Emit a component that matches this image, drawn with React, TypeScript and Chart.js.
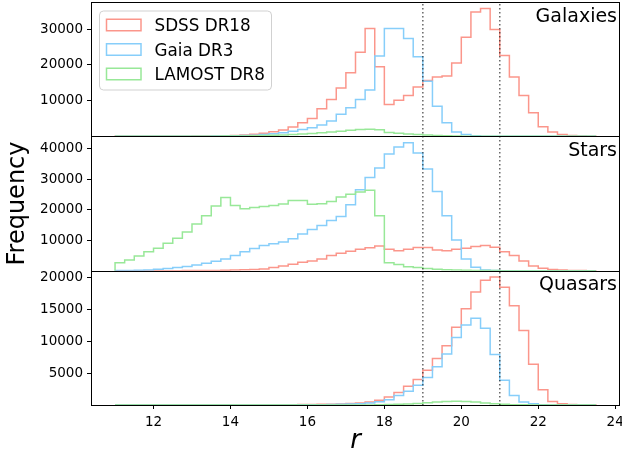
import React, { useEffect, useRef } from 'react';
import { Chart, registerables } from 'chart.js';

Chart.register(...registerables);

// ---------- data ----------
const binEdges = [
  11.0, 11.25, 11.5, 11.75, 12.0, 12.25, 12.5, 12.75, 13.0, 13.25,
  13.5, 13.75, 14.0, 14.25, 14.5, 14.75, 15.0, 15.25, 15.5, 15.75,
  16.0, 16.25, 16.5, 16.75, 17.0, 17.25, 17.5, 17.75, 18.0, 18.25,
  18.5, 18.75, 19.0, 19.25, 19.5, 19.75, 20.0, 20.25, 20.5, 20.75,
  21.0, 21.25, 21.5, 21.75, 22.0, 22.25, 22.5, 22.75, 23.0, 23.25,
  23.5,
];

const galaxiesSDSS = [
  10, 10, 15, 20, 25, 30, 40, 50, 70, 90,
  120, 180, 250, 380, 550, 850, 1250, 1750, 2600, 3800,
  5000, 7700, 10300, 13500, 17800, 23500, 30200, 19500, 8900, 10100,
  11400, 13800, 15600, 16600, 16900, 20500, 27700, 34800, 35800, 29900,
  22600, 16600, 11400, 6600, 2700, 1200, 500, 200, 80, 30,
];
const galaxiesGaia = [
  0, 0, 5, 10, 10, 15, 20, 30, 40, 50,
  70, 100, 150, 230, 330, 480, 700, 1000, 1450, 1900,
  2400, 3200, 4300, 6200, 8000, 10300, 13000, 22500, 30200, 30200,
  27400, 22300, 15400, 8400, 3800, 1200, 500, 150, 50, 10,
  0, 0, 0, 0, 0, 0, 0, 0, 0, 0,
];
const galaxiesLAMOST = [
  0, 5, 5, 10, 10, 15, 20, 25, 30, 40,
  50, 70, 90, 120, 160, 220, 300, 400, 520, 660,
  820, 1000, 1200, 1450, 1700, 1900, 2000, 1850, 1100, 850,
  650, 480, 340, 230, 150, 90, 50, 25, 10, 5,
  0, 0, 0, 0, 0, 0, 0, 0, 0, 0,
];

const starsSDSS = [
  0, 0, 0, 0, 5, 5, 10, 15, 20, 40,
  70, 120, 180, 260, 380, 560, 1000, 1550, 2100, 2750,
  3200, 3850, 4950, 5700, 6400, 7000, 7500, 8100, 7000, 6500,
  7000, 7570, 7570, 6800, 6500, 7000, 7350, 7900, 8250, 7700,
  6250, 4950, 3200, 1550, 760, 400, 200, 80, 30, 10,
];
const starsGaia = [
  50, 80, 120, 200, 450, 700, 1000, 1400, 1900, 2400,
  3100, 3850, 4950, 6250, 7300, 8300, 8800, 9400, 10500, 12000,
  13500, 14800, 16500, 17800, 21600, 26550, 30600, 33700, 38300, 40600,
  42000, 38600, 33350, 26000, 18000, 10100, 3850, 1100, 250, 50,
  10, 0, 0, 0, 0, 0, 0, 0, 0, 0,
];
const starsLAMOST = [
  2630, 3500, 4800, 6250, 7350, 9000, 10650, 12700, 15360, 18000,
  21200, 24000, 21400, 20300, 20700, 21050, 21400, 21900, 23000, 23000,
  21800, 22000, 22700, 24200, 25100, 25800, 26400, 18000, 2630, 2000,
  1300, 1000, 700, 450, 300, 200, 120, 70, 40, 20,
  10, 0, 0, 0, 0, 0, 0, 0, 0, 0,
];

const quasarsSDSS = [
  0, 0, 0, 0, 0, 0, 0, 0, 5, 5,
  5, 10, 10, 10, 15, 15, 20, 30, 40, 60,
  80, 100, 130, 170, 220, 300, 450, 750, 1240, 1940,
  2930, 3980, 5450, 7280, 9280, 12160, 15040, 17660, 19500, 20000,
  18400, 15500, 11630, 6370, 2390, 550, 190, 80, 30, 10,
];
const quasarsGaia = [
  0, 0, 0, 0, 0, 0, 0, 0, 0, 0,
  0, 0, 0, 0, 5, 5, 10, 10, 10, 20,
  30, 50, 70, 100, 140, 200, 300, 500, 820, 1500,
  2150, 3070, 4280, 5970, 7970, 10540, 12510, 13560, 11990, 7900,
  3860, 1490, 460, 190, 50, 10, 0, 0, 0, 0,
];
const quasarsLAMOST = [
  0, 0, 0, 0, 0, 0, 0, 0, 0, 0,
  0, 0, 0, 0, 0, 0, 0, 0, 0, 0,
  0, 0, 0, 5, 5, 10, 10, 30, 60, 100,
  160, 250, 350, 450, 550, 600, 560, 450, 320, 200,
  110, 50, 20, 10, 0, 0, 0, 0, 0, 0,
];

const surveyNames = ['SDSS DR18', 'Gaia DR3', 'LAMOST DR8'];
const panelNames = ['Galaxies', 'Stars', 'Quasars'];
const xTicks = [12, 14, 16, 18, 20, 22, 24];
const galaxiesTicks = [10000, 20000, 30000];
const starsTicks = [10000, 20000, 30000, 40000];
const quasarsTicks = [5000, 10000, 15000, 20000];
const cutLines = [19, 21];

// ---------- styling ----------
const FONT = 'DejaVu Sans';
const surveyColors = ['#fb968b', '#87cefa', '#98e898'];
const axisIds = ['yG', 'yS', 'yQ'];
const panelSeries = [
  [galaxiesSDSS, galaxiesGaia, galaxiesLAMOST],
  [starsSDSS, starsGaia, starsLAMOST],
  [quasarsSDSS, quasarsGaia, quasarsLAMOST],
];
const panelTicks = [galaxiesTicks, starsTicks, quasarsTicks];

function stepPoints(values: number[]) {
  const pts: { x: number; y: number }[] = [{ x: binEdges[0], y: 0 }];
  values.forEach((v, i) => pts.push({ x: binEdges[i], y: v }));
  pts.push({ x: binEdges[values.length], y: 0 });
  return pts;
}

const zeroPadding = (s: any) => {
  s.paddingTop = 0;
  s.paddingBottom = 0;
  s.paddingLeft = 0;
  s.paddingRight = 0;
};

const decorPlugin = {
  id: 'decor',
  afterDatasetsDraw(chart: any) {
    const ctx = chart.ctx as CanvasRenderingContext2D;
    const { left, right, top, bottom } = chart.chartArea;
    const xs = chart.scales.x;
    ctx.save();
    // dotted cut lines
    ctx.strokeStyle = 'rgba(0,0,0,0.6)';
    ctx.lineWidth = 1.5;
    ctx.setLineDash([1.5, 2.5]);
    cutLines.forEach((v) => {
      const px = xs.getPixelForValue(v);
      ctx.beginPath();
      ctx.moveTo(px, top + 2);
      ctx.lineTo(px, bottom);
      ctx.stroke();
    });
    ctx.setLineDash([]);
    // panel frames
    ctx.strokeStyle = '#000';
    ctx.lineWidth = 1;
    const l = Math.round(left) + 0.5;
    const r = Math.round(right) - 0.5;
    axisIds.forEach((id) => {
      const s = chart.scales[id];
      const t = Math.round(s.top) + 0.5;
      const b = Math.round(s.bottom) + 0.5;
      ctx.strokeRect(l, t, r - l, b - t);
    });
    // panel names
    ctx.fillStyle = '#000';
    ctx.font = `19px "${FONT}"`;
    ctx.textAlign = 'right';
    ctx.textBaseline = 'alphabetic';
    axisIds.forEach((id, i) => {
      const s = chart.scales[id];
      ctx.fillText(panelNames[i], right - 3, s.top + 19.5);
    });
    // legend
    const lx = left + 8.5;
    const ly = top + 9;
    const lw = 172;
    const lh = 79;
    ctx.beginPath();
    (ctx as any).roundRect(lx, ly, lw, lh, 4);
    ctx.fillStyle = 'rgba(255,255,255,0.8)';
    ctx.fill();
    ctx.strokeStyle = 'rgba(204,204,204,0.9)';
    ctx.lineWidth = 1;
    ctx.stroke();
    ctx.font = `16.8px "${FONT}"`;
    ctx.textAlign = 'left';
    surveyNames.forEach((name, i) => {
      const cy = ly + 14 + i * 24.5;
      ctx.strokeStyle = surveyColors[i];
      ctx.lineWidth = 1.5;
      ctx.strokeRect(lx + 7, cy - 5.75, 34.5, 11.5);
      ctx.fillStyle = '#000';
      ctx.fillText(name, lx + 55, cy + 6);
    });
    ctx.restore();
  },
};

export default function App() {
  const ref = useRef<HTMLCanvasElement>(null);
  useEffect(() => {
    if (!ref.current) return;
    const datasets: any[] = [];
    panelSeries.forEach((series, p) => {
      series.forEach((vals, s) => {
        datasets.push({
          label: surveyNames[s],
          data: stepPoints(vals),
          yAxisID: axisIds[p],
          borderColor: surveyColors[s],
          backgroundColor: surveyColors[s],
          borderWidth: 1.5,
          pointRadius: 0,
          stepped: true,
          fill: false,
          order: 3 - s,
        });
      });
    });

    const gridOpts = {
      drawOnChartArea: false,
      drawTicks: true,
      tickLength: 4,
      color: '#000',
      lineWidth: 1,
    };
    const yScale = (p: number) => ({
      type: 'linear',
      position: 'left',
      stack: 'panels',
      stackWeight: 1,
      weight: 3 - p,
      min: 0,
      max: Math.max(...panelSeries[p].flat()) * 1.05,
      afterBuildTicks: (s: any) => {
        s.ticks = panelTicks[p].map((v) => ({ value: v }));
      },
      afterFit: (s: any) => {
        s.width = 91;
        zeroPadding(s);
      },
      grid: gridOpts,
      border: { display: false },
      ticks: {
        color: '#000',
        font: { family: FONT, size: 13.5 },
        padding: 4,
        callback: (v: any) => String(v),
      },
      title:
        p === 1
          ? {
              display: true,
              text: 'Frequency',
              color: '#000',
              font: { family: FONT, size: 24 },
              padding: { top: 3.5, bottom: 0 },
            }
          : { display: false },
    });

    const chart = new Chart(ref.current, {
      type: 'line',
      data: { datasets },
      options: {
        responsive: false,
        animation: false,
        events: [],
        layout: { padding: { top: 2, right: 2, left: 0, bottom: 0 } },
        plugins: { legend: { display: false }, tooltip: { enabled: false } },
        scales: {
          x: {
            type: 'linear',
            min: 10.375,
            max: 24.125,
            afterBuildTicks: (s: any) => {
              s.ticks = xTicks.map((v) => ({ value: v }));
            },
            afterFit: (s: any) => {
              s.height = 53;
              zeroPadding(s);
            },
            grid: gridOpts,
            border: { display: false },
            ticks: {
              color: '#000',
              font: { family: FONT, size: 13.5 },
              padding: 5,
              maxRotation: 0,
              autoSkip: false,
              callback: (v: any) => String(v),
            },
            title: {
              display: true,
              text: 'r',
              color: '#000',
              font: { family: FONT, size: 26, style: 'italic' },
              padding: { top: 0, bottom: 1 },
            },
          },
          yG: yScale(0),
          yS: yScale(1),
          yQ: yScale(2),
        } as any,
      },
      plugins: [decorPlugin],
    } as any);
    return () => chart.destroy();
  }, []);

  return (
    <div style={{ position: 'fixed', left: 0, top: 0, width: 622, height: 458, background: '#fff' }}>
      <canvas ref={ref} width={622} height={458} style={{ display: 'block', width: 622, height: 458 }} />
    </div>
  );
}
